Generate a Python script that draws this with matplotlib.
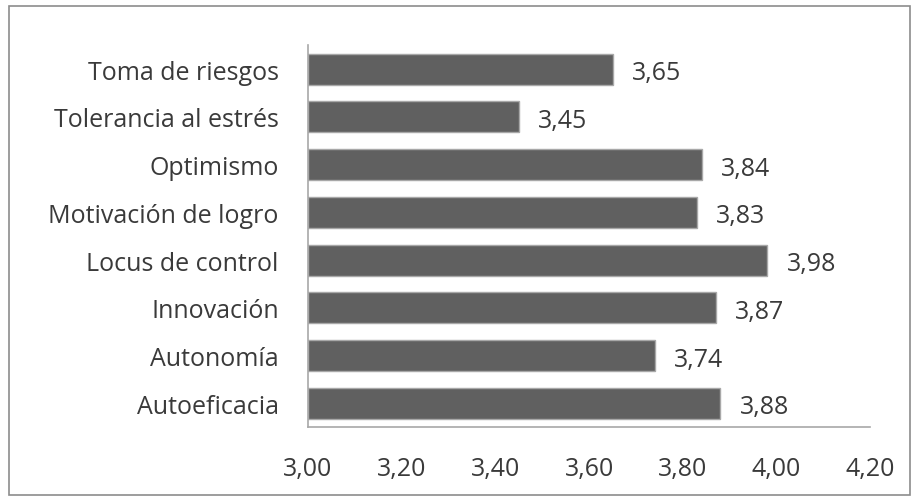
import matplotlib.pyplot as plt
from matplotlib.patches import Rectangle

categorias = ['Autoeficacia', 'Autonomía', 'Innovación', 'Locus de control',
              'Motivación de logro', 'Optimismo', 'Tolerancia al estrés',
              'Toma de riesgos']
medias = [3.88, 3.74, 3.87, 3.98, 3.83, 3.84, 3.45, 3.65]
ticks_x = [3.00, 3.20, 3.40, 3.60, 3.80, 4.00, 4.20]

plt.rcParams['font.family'] = ['Open Sans', 'DejaVu Sans']
fs = 18
gris_txt = '#3a3a3a'

fig = plt.figure(figsize=(9.19, 5.02), dpi=100)
ax = fig.add_axes([0.335, 0.147, 0.612, 0.761])

# marco exterior del gráfico
fig.patches.append(Rectangle((0.010, 0.012), 0.980, 0.974, transform=fig.transFigure,
                             fill=False, edgecolor='#8c8c8c', linewidth=1.2))

y = range(len(categorias))
ax.barh(y, [m - 3.0 for m in medias], left=3.0, height=0.65,
        color='#606060', edgecolor='#a8a8a8', linewidth=1.0)

for i, m in enumerate(medias):
    ax.annotate(f'{m:.2f}'.replace('.', ','), (m, i), xytext=(14, -2.5),
                textcoords='offset points', va='center', ha='left',
                fontsize=fs, color=gris_txt)

ax.set_xlim(3.0, 4.2)
ax.set_ylim(-0.5, len(categorias) - 0.5)
ax.set_xticks(ticks_x)
ax.set_xticklabels([f'{t:.2f}'.replace('.', ',') for t in ticks_x])
ax.set_yticks(list(y))
ax.set_yticklabels(categorias)
ax.tick_params(axis='both', length=0, labelsize=fs, labelcolor=gris_txt)
ax.tick_params(axis='x', pad=21)
ax.tick_params(axis='y', pad=21)

for s in ['top', 'right']:
    ax.spines[s].set_visible(False)
for s in ['left', 'bottom']:
    ax.spines[s].set_color('#a8a8a8')
    ax.spines[s].set_linewidth(1.2)

fig.savefig('out.png', dpi=100)
